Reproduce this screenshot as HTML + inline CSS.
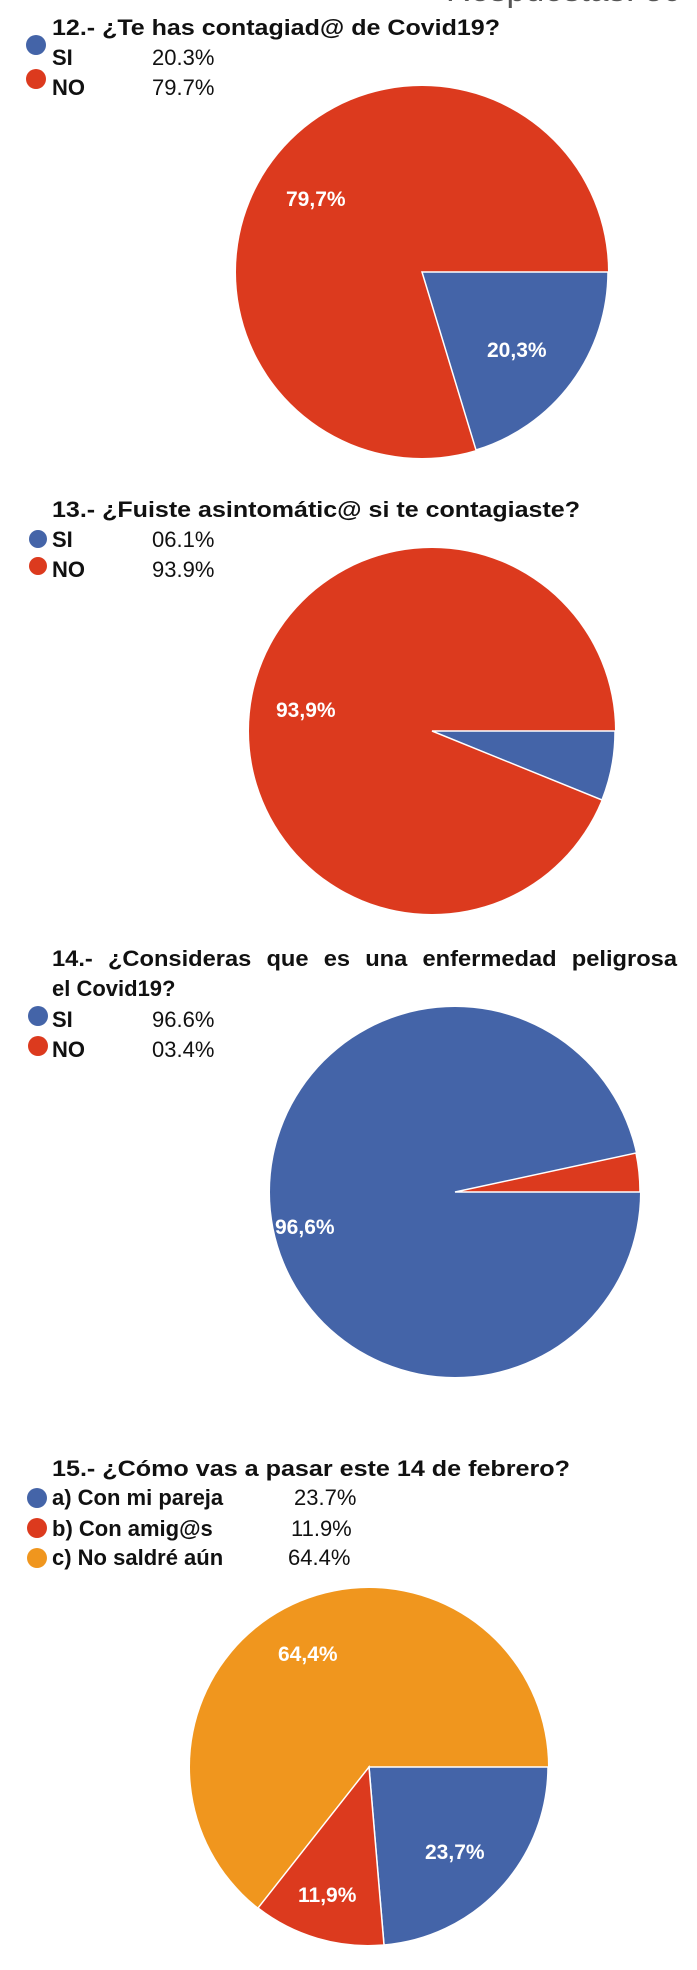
<!DOCTYPE html>
<html><head><meta charset="utf-8"><style>
html,body{margin:0;padding:0;background:#fff;width:697px;height:1970px;overflow:hidden}
svg{display:block}
.t{font-family:"Liberation Sans",Arial,sans-serif;font-weight:bold;font-size:22px;fill:#111}
.v{font-family:"Liberation Sans",Arial,sans-serif;font-size:22px;fill:#111}
.p{font-family:"Liberation Sans",Arial,sans-serif;font-size:21px;font-weight:bold;fill:#fff}
</style></head><body>
<svg width="697" height="1970" viewBox="0 0 697 1970" xmlns="http://www.w3.org/2000/svg">
<text x="446" y="1" class="v" style="font-size:34px;fill:#555">Respuestas: 59</text>

<!-- Q12 -->
<text x="52" y="35" class="t" textLength="448" lengthAdjust="spacingAndGlyphs">12.- ¿Te has contagiad@ de Covid19?</text>
<ellipse cx="36" cy="45" rx="10" ry="10" fill="#4464a8"/>
<text x="52" y="65" class="t">SI</text><text x="152" y="65" class="v">20.3%</text>
<ellipse cx="36" cy="79" rx="10" ry="10" fill="#dc3a1e"/>
<text x="52" y="95" class="t">NO</text><text x="152" y="95" class="v">79.7%</text>
<circle cx="422" cy="272" r="186" fill="#dc3a1e"/>
<path d="M422,272 L608,272 A186,186 0 0 1 476,450 Z" fill="#4464a8" stroke="#fff" stroke-width="1.5"/>
<text x="286" y="206" class="p">79,7%</text>
<text x="487" y="357" class="p">20,3%</text>

<!-- Q13 -->
<text x="52" y="517" class="t" textLength="528" lengthAdjust="spacingAndGlyphs">13.- ¿Fuiste asintomátic@ si te contagiaste?</text>
<circle cx="38" cy="539" r="9" fill="#4464a8"/>
<text x="52" y="547" class="t">SI</text><text x="152" y="547" class="v">06.1%</text>
<circle cx="38" cy="566" r="9" fill="#dc3a1e"/>
<text x="52" y="577" class="t">NO</text><text x="152" y="577" class="v">93.9%</text>
<circle cx="432" cy="731" r="183" fill="#dc3a1e"/>
<path d="M432,731 L615,731 A183,183 0 0 1 602,800 Z" fill="#4464a8" stroke="#fff" stroke-width="1.5"/>
<text x="276" y="717" class="p">93,9%</text>

<!-- Q14 -->
<text x="52" y="966" class="t" textLength="625" lengthAdjust="spacingAndGlyphs" style="word-spacing:8px">14.- ¿Consideras que es una enfermedad peligrosa</text>
<text x="52" y="996" class="t">el Covid19?</text>
<circle cx="38" cy="1016" r="10" fill="#4464a8"/>
<text x="52" y="1027" class="t">SI</text><text x="152" y="1027" class="v">96.6%</text>
<circle cx="38" cy="1046" r="10" fill="#dc3a1e"/>
<text x="52" y="1057" class="t">NO</text><text x="152" y="1057" class="v">03.4%</text>
<circle cx="455" cy="1192" r="185" fill="#4464a8"/>
<path d="M455,1192 L640,1192 A185,185 0 0 0 636,1153 Z" fill="#dc3a1e" stroke="#fff" stroke-width="1.5"/>
<text x="275" y="1234" class="p">96,6%</text>

<!-- Q15 -->
<text x="52" y="1476" class="t" textLength="518" lengthAdjust="spacingAndGlyphs">15.- ¿Cómo vas a pasar este 14 de febrero?</text>
<circle cx="37" cy="1498" r="10" fill="#4464a8"/>
<text x="52" y="1505" class="t">a) Con mi pareja</text><text x="294" y="1505" class="v">23.7%</text>
<circle cx="37" cy="1528" r="10" fill="#dc3a1e"/>
<text x="52" y="1536" class="t">b) Con amig@s</text><text x="291" y="1536" class="v">11.9%</text>
<circle cx="37" cy="1558" r="10" fill="#f0961e"/>
<text x="52" y="1565" class="t">c) No saldré aún</text><text x="288" y="1565" class="v">64.4%</text>
<circle cx="369" cy="1767" r="179" fill="#f0961e"/>
<path d="M369,1767 L548,1767 A179,179 0 0 1 384,1945 Z" fill="#4464a8" stroke="#fff" stroke-width="1.5"/>
<path d="M369,1767 L384,1945 A179,179 0 0 1 258,1908 Z" fill="#dc3a1e" stroke="#fff" stroke-width="1.5"/>
<text x="278" y="1661" class="p">64,4%</text>
<text x="425" y="1859" class="p">23,7%</text>
<text x="298" y="1902" class="p">11,9%</text>
</svg>
</body></html>
